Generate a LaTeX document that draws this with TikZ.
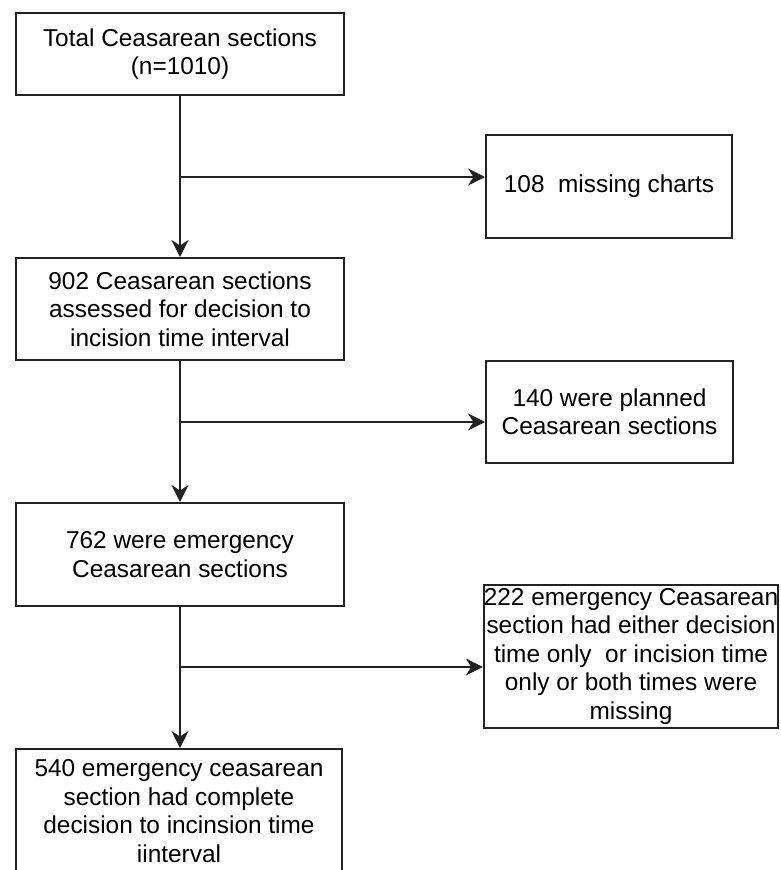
\documentclass[tikz,border=0pt]{standalone}
\usepackage{fontspec}
\setmainfont{Liberation Sans}
\usetikzlibrary{arrows.meta}
\definecolor{lin}{HTML}{222222}
\begin{document}
\begin{tikzpicture}[x=1pt,y=-1pt,
  box/.style={draw=lin,line width=2pt,inner sep=0pt,align=center,
    font=\fontsize{24.4}{28.5}\selectfont},
  conn/.style={draw=lin,line width=2pt},
  arr/.style={conn,-{Stealth[length=17pt,width=17pt,inset=5.5pt]}}]
\useasboundingbox (0,0) rectangle (780,870);
\clip (0,0) rectangle (780,870);
\fill[white] (0,0) rectangle (780,870);
\node[box,minimum width=328pt,minimum height=82pt] (b1) at (180,54) {Total Ceasarean sections\\(n=1010)};
\node[box,minimum width=246pt,minimum height=103pt] (b108) at (609,186.5) {108\ \ missing charts};
\node[box,minimum width=328pt,minimum height=102pt] (b2) at (180,309) {902 Ceasarean sections\\assessed for decision to\\incision time interval};
\node[box,minimum width=247pt,minimum height=102pt] (b140) at (609.5,412) {140 were planned\\Ceasarean sections};
\node[box,minimum width=328pt,minimum height=103pt] (b3) at (180,554.5) {762 were emergency\\Ceasarean sections};
\node[box,minimum width=294pt,minimum height=143pt] (b222) at (631,656.5) {222 emergency Ceasarean\\section had either decision\\time only\ \ or incision time\\only or both times were\\missing};
\node[box,minimum width=326pt,minimum height=124pt] (b4) at (179,811) {540 emergency ceasarean\\section had complete\\decision to incinsion time\\iinterval};
\coordinate (j1) at (180,177);
\coordinate (j2) at (180,422);
\coordinate (j3) at (180,667);
\draw[arr] (b1.south) -- (b2.north);
\draw[arr] (j1) -- (j1 -| b108.west);
\draw[arr] (b2.south) -- (b3.north);
\draw[arr] (j2) -- (j2 -| b140.west);
\draw[arr] (b3.south) -- (b3.south |- b4.north);
\draw[arr] (j3) -- (j3 -| b222.west);
\end{tikzpicture}
\end{document}
